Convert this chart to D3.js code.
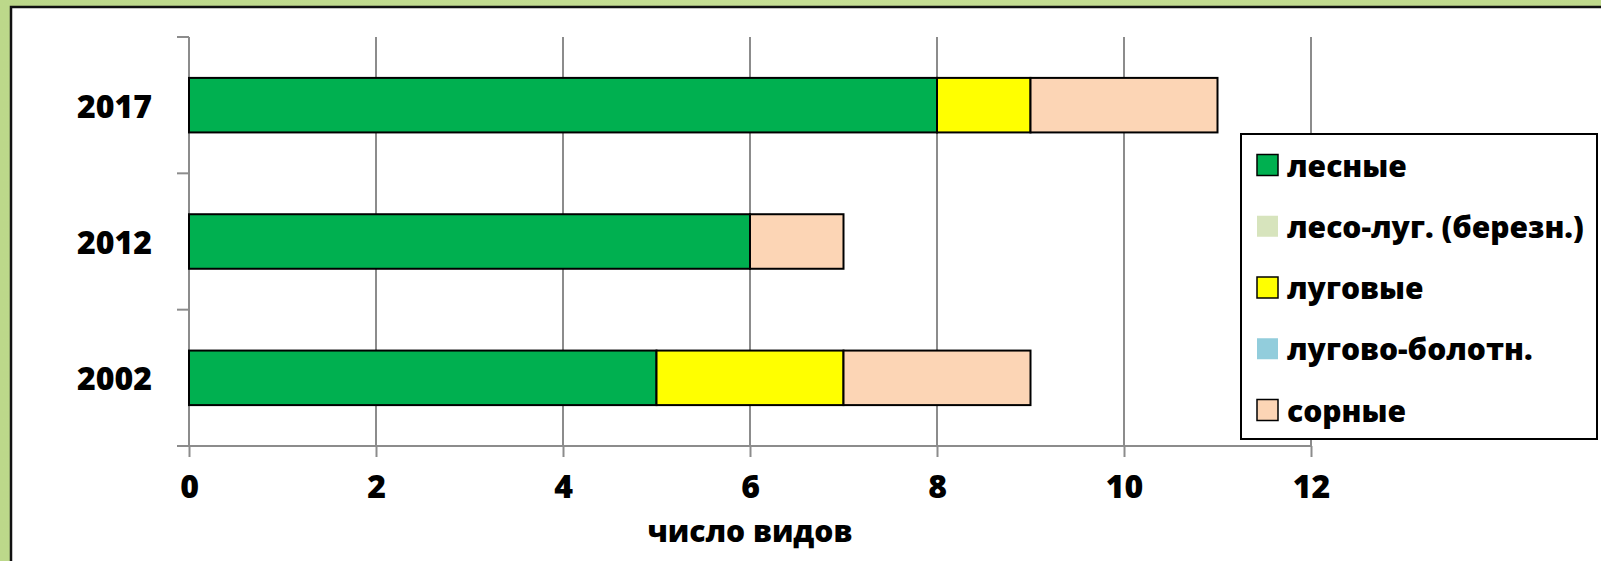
<!DOCTYPE html>
<html>
<head>
<meta charset="utf-8">
<script src="https://cdn.jsdelivr.net/npm/d3@7"></script>
<style>
  html, body { margin: 0; padding: 0; background: #c3dc8f; }
  svg { display: block; }
  text { font-family: "Open Sans", "DejaVu Sans", sans-serif; font-weight: 800; fill: #000; }
</style>
</head>
<body>
<svg id="chart" width="1601" height="561"></svg>
<script>
// Categories (top to bottom) and species counts per ecological group
const years = ["2017", "2012", "2002"];
const groups = ["лесные", "лесо-луг. (березн.)", "луговые", "лугово-болотн.", "сорные"];
const colors = ["#00b050", "#d7e4bd", "#ffff00", "#92cddc", "#fcd5b5"];
const forest      = [8, 6, 5];
const forestMeadow = [0, 0, 0];
const meadow      = [1, 0, 2];
const meadowBog   = [0, 0, 0];
const weeds       = [2, 1, 2];
const xTicks = [0, 2, 4, 6, 8, 10, 12];
const xTitle = "число видов";

const seriesValues = [forest, forestMeadow, meadow, meadowBog, weeds];
const rows = years.map((y, i) => {
  const r = { year: y };
  groups.forEach((g, k) => { r[g] = seriesValues[k][i]; });
  return r;
});

const svg = d3.select("#chart");
const W = 1601, H = 561;

// textured green backdrop
const defs = svg.append("defs");
const grad = defs.append("linearGradient").attr("id", "bg").attr("x1", 0).attr("x2", 1);
grad.append("stop").attr("offset", 0).attr("stop-color", "#bcd88a");
grad.append("stop").attr("offset", 0.5).attr("stop-color", "#c6df94");
grad.append("stop").attr("offset", 1).attr("stop-color", "#bfd98c");
svg.append("rect").attr("width", W).attr("height", H).attr("fill", "url(#bg)");

// white chart panel with dark frame
svg.append("rect")
  .attr("x", 11).attr("y", 7).attr("width", W + 20).attr("height", H + 20)
  .attr("fill", "#fff").attr("stroke", "#111").attr("stroke-width", 2.5);

const x0 = 189, x1 = 1311, yTop = 37, yBot = 446;
const x = d3.scaleLinear().domain([0, 12]).range([x0, x1]);
const y = d3.scaleBand().domain(years).range([yTop, yBot]).paddingInner(0.6).paddingOuter(0.3);

const gridColor = "#8c8c8c";

// vertical gridlines
svg.append("g").selectAll("line").data(xTicks.filter(t => t > 0)).join("line")
  .attr("x1", d => x(d)).attr("x2", d => x(d))
  .attr("y1", yTop).attr("y2", yBot)
  .attr("stroke", gridColor).attr("stroke-width", 2);

// x axis
const xAxis = svg.append("g").attr("transform", `translate(0,${yBot})`)
  .call(d3.axisBottom(x).tickValues(xTicks).tickSize(11).tickPadding(18).tickSizeOuter(0));
xAxis.select(".domain").remove();
xAxis.append("line").attr("x1", x0 - 12).attr("x2", x1).attr("y1", 0).attr("y2", 0)
  .attr("stroke", gridColor).attr("stroke-width", 2);
xAxis.selectAll(".tick line").attr("stroke", gridColor).attr("stroke-width", 2);
xAxis.selectAll(".tick text").attr("font-size", 32).attr("font-family", null).attr("fill", "#000");

// y axis with ticks on band boundaries
const yAxisG = svg.append("g");
yAxisG.append("line").attr("x1", x0).attr("x2", x0).attr("y1", yTop).attr("y2", yBot)
  .attr("stroke", gridColor).attr("stroke-width", 2);
const bandEdges = d3.range(years.length + 1).map(i => yTop + i * (yBot - yTop) / years.length);
yAxisG.selectAll(".edge").data(bandEdges.slice(0, -1)).join("line")
  .attr("x1", x0 - 12).attr("x2", x0).attr("y1", d => d).attr("y2", d => d)
  .attr("stroke", gridColor).attr("stroke-width", 2);
yAxisG.selectAll("text").data(years).join("text")
  .attr("x", 152).attr("y", d => y(d) + y.bandwidth() / 2)
  .attr("text-anchor", "end").attr("dominant-baseline", "central")
  .attr("font-size", 32).text(d => d);

// stacked bars
const stack = d3.stack().keys(groups)(rows);
svg.append("g").selectAll("g").data(stack).join("g")
  .attr("fill", (d, i) => colors[i])
  .selectAll("rect").data(d => d.filter(s => s[1] - s[0] > 0)).join("rect")
  .attr("x", d => x(d[0])).attr("width", d => x(d[1]) - x(d[0]))
  .attr("y", d => y(d.data.year)).attr("height", y.bandwidth())
  .attr("stroke", "#000").attr("stroke-width", 2);

// axis title
svg.append("text").attr("x", 750).attr("y", 530)
  .attr("text-anchor", "middle").attr("dominant-baseline", "central")
  .attr("font-size", 30).text(xTitle);

// legend
const lg = svg.append("g");
lg.append("rect").attr("x", 1241).attr("y", 134).attr("width", 356).attr("height", 305)
  .attr("fill", "#fff").attr("stroke", "#000").attr("stroke-width", 2);
const legY = d3.scalePoint().domain(groups).range([165, 410]);
const emptySeries = groups.map((g, k) => d3.sum(seriesValues[k]) === 0);
const items = lg.selectAll(".item").data(groups).join("g")
  .attr("transform", d => `translate(1257,${legY(d)})`);
items.append("rect").attr("x", 0).attr("y", -10.5).attr("width", 21).attr("height", 21)
  .attr("fill", (d, i) => colors[i])
  .attr("stroke", (d, i) => emptySeries[i] ? "none" : "#000").attr("stroke-width", 1.5);
items.append("text").attr("x", 30).attr("y", 0)
  .attr("dominant-baseline", "central").attr("font-size", 30).text(d => d);
</script>
</body>
</html>
